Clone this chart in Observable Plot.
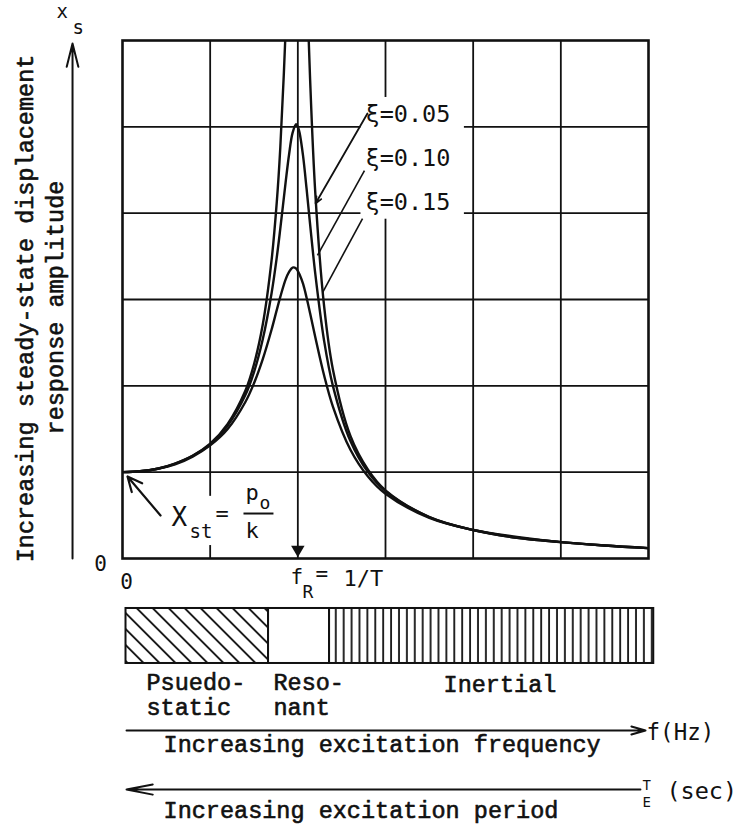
<!DOCTYPE html>
<html><head><meta charset="utf-8">
<script src="https://cdn.jsdelivr.net/npm/d3@7"></script>
<script src="https://cdn.jsdelivr.net/npm/@observablehq/plot@0.6"></script>
<style>html,body{margin:0;padding:0;background:#fff}</style>
</head><body><div id="chart"></div>
<script>
// frequency ratio f/fR read along the horizontal axis
const ratio = [0, 0.1, 0.2, 0.3, 0.4, 0.5, 0.6, 0.7, 0.75, 0.8, 0.85, 0.88, 0.9, 0.93, 0.95, 0.97, 0.99, 1.0, 1.01, 1.03, 1.05, 1.07, 1.1, 1.15, 1.2, 1.3, 1.4, 1.5, 1.75, 2, 2.25, 2.5, 2.75, 3];
// amplitude (in units of Xst) for each damping ratio
const amp005 = [1.00, 1.01, 1.04, 1.10, 1.19, 1.33, 1.56, 1.94, 2.25, 2.71, 3.45, 4.13, 4.76, 6.10, 7.35, 8.80, 9.90, 10.0, 9.71, 8.36, 6.82, 5.55, 4.22, 2.92, 2.19, 1.42, 1.03, 0.79, 0.48, 0.33, 0.25, 0.19, 0.15, 0.12];
const amp010 = [1.00, 1.01, 1.04, 1.10, 1.19, 1.32, 1.54, 1.89, 2.16, 2.54, 3.07, 3.49, 3.82, 4.35, 4.68, 4.93, 5.03, 5.00, 4.93, 4.66, 4.28, 3.87, 3.29, 2.52, 2.00, 1.36, 1.00, 0.78, 0.48, 0.33, 0.24, 0.19, 0.15, 0.12];
const amp015 = [1.00, 1.01, 1.04, 1.09, 1.18, 1.31, 1.50, 1.81, 2.03, 2.31, 2.65, 2.88, 3.03, 3.23, 3.32, 3.37, 3.36, 3.33, 3.29, 3.18, 3.02, 2.84, 2.56, 2.12, 1.76, 1.26, 0.95, 0.75, 0.47, 0.33, 0.24, 0.19, 0.15, 0.12];
const dampingLabels = ["ξ=0.05", "ξ=0.10", "ξ=0.15"];
const regionNames = ["Psuedo-\nstatic", "Reso-\nnant", "Inertial"];
const regionStart = [0.02, 0.833, 1.181];
const regionEnd = [0.833, 1.181, 3.03];
const xGrid = [0.5, 1, 1.5, 2, 2.5];
const yGrid = [1, 2, 3, 4, 5];

const ink = "#111";
const mono = "'DejaVu Sans Mono', monospace";
const typew = "'Liberation Mono', 'Courier New', monospace";

const curves = [[dampingLabels[0], amp005], [dampingLabels[1], amp010], [dampingLabels[2], amp015]]
  .flatMap(([xi, vals]) => ratio.map((r, i) => ({r, amp: vals[i], xi})));
const regions = regionNames.map((name, i) => ({name, x1: regionStart[i], x2: regionEnd[i]}));

function label(text, x, y, o = {}) {
  return Plot.text([text], {x, y, text: d => d, textAnchor: "start", lineAnchor: "bottom",
    fill: ink, fontFamily: mono, fontSize: 22, ...o});
}
function tw(text, x, y, o = {}) {
  return label(text, x, y, {fontFamily: typew, fontSize: 23.5, stroke: ink, strokeWidth: 0.6, ...o});
}

const chart = Plot.plot({
  width: 750, height: 828,
  marginLeft: 122, marginRight: 102, marginTop: 40, marginBottom: 270,
  x: {domain: [0, 3], axis: null},
  y: {domain: [0, 6], axis: null},
  style: {background: "white", overflow: "visible"},
  marks: [
    Plot.ruleX(xGrid, {stroke: ink, strokeWidth: 1.8}),
    Plot.ruleY(yGrid, {stroke: ink, strokeWidth: 1.8}),
    Plot.rect([0], {x1: 1.36, x2: 1.95, y1: 3.93, y2: 5.34, fill: "white"}),
    Plot.rect([0], {x1: 0.28, x2: 0.88, y1: 0.15, y2: 0.72, fill: "white"}),
    Plot.line(curves, {x: "r", y: "amp", z: "xi", stroke: ink, strokeWidth: 2.4, curve: "catmull-rom", clip: true}),
    Plot.frame({stroke: ink, strokeWidth: 2.6}),
    Plot.dot([0], {x: 1, y: 0.104, symbol: "triangle", r: 5, fill: ink, rotate: 180}),

    // damping labels and pointers
    label(dampingLabels[0], 1.386, 5.051, {fontSize: 23.5}),
    label(dampingLabels[1], 1.386, 4.552, {fontSize: 23.5}),
    label(dampingLabels[2], 1.386, 4.031, {fontSize: 23.5}),
    Plot.arrow([0], {x1: 1.397, y1: 5.155, x2: 1.101, y2: 4.112, stroke: ink, strokeWidth: 1.8, headLength: 6, headAngle: 45}),
    Plot.link([0], {x1: 1.380, y1: 4.494, x2: 1.112, y2: 3.510, stroke: ink, strokeWidth: 1.6}),
    Plot.link([0], {x1: 1.369, y1: 3.938, x2: 1.141, y2: 3.081, stroke: ink, strokeWidth: 1.6}),

    // static displacement annotation
    Plot.arrow([0], {x1: 0.217, y1: 0.498, x2: 0.0285, y2: 0.950, stroke: ink, strokeWidth: 2.2, headLength: 11, headAngle: 50}),
    label("X", 0.279, 0.382, {fontSize: 26}),
    label("st", 0.382, 0.232, {fontSize: 19}),
    label("=", 0.530, 0.440, {fontSize: 22}),
    label("p", 0.702, 0.672, {fontSize: 22}),
    label("o", 0.781, 0.579, {fontSize: 18}),
    Plot.link([0], {x1: 0.690, x2: 0.861, y1: 0.521, y2: 0.521, stroke: ink, strokeWidth: 2}),
    label("k", 0.702, 0.243, {fontSize: 22}),

    // axis zeros and resonance label
    label("0", -0.125, -0.139, {fontSize: 21, textAnchor: "middle"}),
    label("0", 0.023, -0.348, {fontSize: 21, textAnchor: "middle"}),
    label("f", 0.958, -0.290, {fontSize: 21}),
    label("R", 1.027, -0.452, {fontSize: 18}),
    label("=", 1.101, -0.255, {fontSize: 21}),
    label("1/T", 1.260, -0.313, {fontSize: 22}),

    // vertical axis arrow and titles
    Plot.arrow([0], {x1: -0.285, y1: 0, x2: -0.285, y2: 5.965, stroke: ink, strokeWidth: 2, headLength: 18, headAngle: 28}),
    label("x", -0.376, 6.255, {fontSize: 19}),
    label("s", -0.285, 6.081, {fontSize: 19}),
    tw("Increasing steady-state displacement", -0.513, 2.896, {rotate: -90, textAnchor: "middle"}),
    tw("response amplitude", -0.337, 2.907, {rotate: -90, textAnchor: "middle"}),

    // response regions
    Plot.rect([regions[0]], {x1: "x1", x2: "x2", y1: -0.579, y2: -1.216, fill: "url(#hatch)", stroke: ink, strokeWidth: 2}),
    Plot.rect([regions[1]], {x1: "x1", x2: "x2", y1: -0.579, y2: -1.216, fill: "white", stroke: ink, strokeWidth: 2}),
    Plot.rect([regions[2]], {x1: "x1", x2: "x2", y1: -0.579, y2: -1.216, fill: "url(#stripes)", stroke: ink, strokeWidth: 2}),
    tw(regions[0].name, 0.137, -1.807, {lineHeight: 1.064}),
    tw(regions[1].name, 0.861, -1.807, {lineHeight: 1.064}),
    tw(regions[2].name, 1.831, -1.541),

    // frequency / period arrows
    Plot.arrow([0], {x1: 0.023, y1: -1.992, x2: 2.983, y2: -1.992, stroke: ink, strokeWidth: 2, headLength: 11, headAngle: 32}),
    tw("Increasing excitation frequency", 0.234, -2.236),
    label("f(Hz)", 2.989, -2.097, {fontSize: 22.5}),
    Plot.arrow([0], {x1: 2.954, y1: -2.676, x2: 0.023, y2: -2.676, stroke: ink, strokeWidth: 2, headLength: 20, headAngle: 22}),
    tw("Increasing excitation period", 0.234, -3.0),
    label("T\nE", 2.966, -2.873, {fontSize: 14, lineHeight: 1.15}),
    label("(sec)", 3.102, -2.780, {fontSize: 23.5})
  ]
});

const svg = d3.select(chart);
const defs = svg.insert("defs", ":first-child");
const h = defs.append("pattern").attr("id", "hatch").attr("patternUnits", "userSpaceOnUse")
  .attr("width", 11.3).attr("height", 11.3).attr("patternTransform", "rotate(-45)");
h.append("rect").attr("width", 11.3).attr("height", 11.3).attr("fill", "white");
h.append("line").attr("x1", 5.65).attr("x2", 5.65).attr("y1", -1).attr("y2", 12.3).attr("stroke", ink).attr("stroke-width", 1.8);
const s = defs.append("pattern").attr("id", "stripes").attr("patternUnits", "userSpaceOnUse")
  .attr("width", 7.9).attr("height", 10);
s.append("rect").attr("width", 7.9).attr("height", 10).attr("fill", "white");
s.append("line").attr("x1", 4).attr("x2", 4).attr("y1", -1).attr("y2", 11).attr("stroke", ink).attr("stroke-width", 1.8);

document.getElementById("chart").appendChild(chart);
</script></body></html>
